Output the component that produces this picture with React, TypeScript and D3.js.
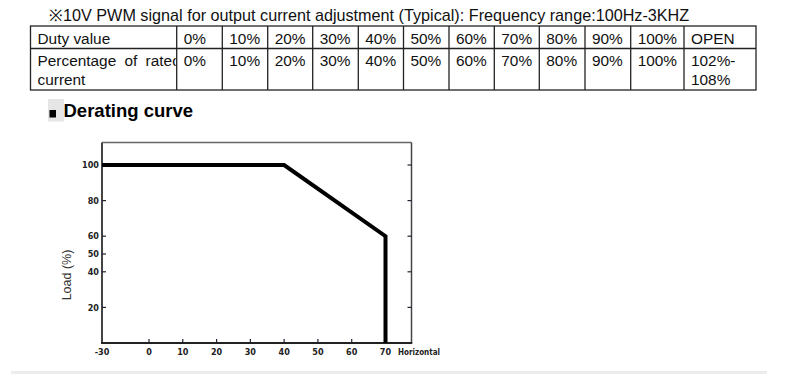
import React from "react";
import * as d3 from "d3";

// ---- data ----
const titleText = "※10V PWM signal for output current adjustment (Typical): Frequency range:100Hz-3KHZ";
const rowHeaders = ["Duty value", "Percentage of rated", "current"];
const dutyValues = ["0%", "10%", "20%", "30%", "40%", "50%", "60%", "70%", "80%", "90%", "100%", "OPEN"];
const currentValues = ["0%", "10%", "20%", "30%", "40%", "50%", "60%", "70%", "80%", "90%", "100%", "102%-|108%"];

const headingText = "Derating curve";
const curveTemp = [-30, 40, 70, 70];
const curveLoad = [100, 100, 60, 0];
const xTickValues = [-30, 0, 10, 20, 30, 40, 50, 60, 70];
const yTickValues = [100, 80, 60, 50, 40, 20];
const rightTickValues = [100, 80, 60, 40, 20];
const xAxisTitle = "Horizontal";
const yAxisTitle = "Load (%)";

// ---- layout ----
const W = 786;
const H = 379;
const tableLeft = 30.5;
const tableTop = 26;
const rowSplit = 48.5;
const tableBottom = 90;
const colEdges = [176.7, 222.3, 267.7, 312.7, 358.3, 403.5, 449, 494.3, 539.3, 585, 630.7, 684, 756];

const plotLeft = 102;
const plotRight = 411.5;
const plotTop = 142.5;
const plotBottom = 343;

export default function App() {
  const x = d3.scaleLinear().domain([-30, 0, 70, 77.7]).range([plotLeft, 149, 385.5, plotRight]);
  const y = d3.scaleLinear().domain([0, 100]).range([plotBottom, 165]);
  const line = d3
    .line<number>()
    .x((_, i) => x(curveTemp[i]))
    .y((_, i) => y(curveLoad[i]));

  const font = "Arial, 'Liberation Sans', sans-serif";
  const tickFont = "'Liberation Sans Narrow', 'DejaVu Sans Condensed', 'Arial Narrow', sans-serif";

  return (
    <svg
      width={W}
      height={H}
      style={{ position: "absolute", left: 0, top: 0, background: "#fff" }}
      fontFamily={font}
    >
      <defs>
        <clipPath id="hdrclip">
          <rect x={tableLeft} y={tableTop} width={colEdges[0] - tableLeft - 1} height={tableBottom - tableTop} />
        </clipPath>
      </defs>
      <rect x={0} y={0} width={W} height={H} fill="#fff" />

      {/* title */}
      <text x={49} y={21} fontSize={16.2} fill="#111">
        {titleText}
      </text>

      {/* table */}
      <g stroke="#222" strokeWidth={1.3} fill="none">
        <rect x={tableLeft} y={tableTop} width={colEdges[colEdges.length - 1] - tableLeft} height={tableBottom - tableTop} />
        <line x1={tableLeft} x2={colEdges[colEdges.length - 1]} y1={rowSplit} y2={rowSplit} />
        {colEdges.slice(0, -1).map((cx, i) => (
          <line key={i} x1={cx} x2={cx} y1={tableTop} y2={tableBottom} />
        ))}
      </g>
      <g fontSize={15.4} fill="#111">
        <text x={37.5} y={44}>{rowHeaders[0]}</text>
        <g clipPath="url(#hdrclip)">
          <text x={37.5} y={66} wordSpacing={4}>{rowHeaders[1]}</text>
        </g>
        <text x={37.5} y={84.5}>{rowHeaders[2]}</text>
        {dutyValues.map((v, i) => (
          <text key={"d" + i} x={colEdges[i] + 7} y={44}>{v}</text>
        ))}
        {currentValues.map((v, i) =>
          v.split("|").map((part, j) => (
            <text key={"c" + i + "-" + j} x={colEdges[i] + 7} y={66 + j * 18.5}>{part}</text>
          ))
        )}
      </g>

      {/* heading */}
      <rect x={48} y={99} width={16} height={22.5} fill="#e6e6e6" />
      <rect x={49.5} y={110} width={6.5} height={7.5} fill="#000" />
      <text x={63.5} y={116.5} fontSize={18.5} fontWeight="bold" fill="#000">
        {headingText}
      </text>

      {/* plot frame */}
      <line x1={plotLeft} x2={plotRight} y1={plotTop} y2={plotTop} stroke="#666" strokeWidth={1.5} />
      <line x1={plotRight} x2={plotRight} y1={plotTop} y2={plotBottom} stroke="#444" strokeWidth={1.5} />
      <line x1={plotLeft} x2={plotLeft} y1={plotTop} y2={plotBottom + 1} stroke="#444" strokeWidth={2} />
      <line x1={plotLeft - 1} x2={plotRight + 0.75} y1={plotBottom} y2={plotBottom} stroke="#222" strokeWidth={2} />

      {/* ticks */}
      <g stroke="#223" strokeWidth={1.2}>
        {yTickValues.map((t) => (
          <line key={"yl" + t} x1={plotLeft} x2={plotLeft + 4} y1={y(t)} y2={y(t)} />
        ))}
        {rightTickValues.map((t) => (
          <line key={"yr" + t} x1={plotRight - 4} x2={plotRight} y1={y(t)} y2={y(t)} />
        ))}
        {xTickValues.filter((t) => t > -30).map((t) => (
          <line key={"x" + t} x1={x(t)} x2={x(t)} y1={plotBottom} y2={plotBottom - 4} />
        ))}
      </g>
      <g fontFamily={tickFont} fontWeight="bold" fontSize={9} fill="#222">
        {yTickValues.map((t) => (
          <text key={"tl" + t} x={plotLeft - 3} y={y(t)} dy="0.35em" textAnchor="end">
            {t}
          </text>
        ))}
        {xTickValues.map((t) => (
          <text key={"tx" + t} x={x(t)} y={355} textAnchor="middle">
            {t}
          </text>
        ))}
        <text x={398} y={355} textLength={42} lengthAdjust="spacingAndGlyphs">{xAxisTitle}</text>
      </g>
      <text
        transform={`translate(71,275) rotate(-90)`}
        textAnchor="middle"
        fontSize={12.5}
        fill="#333"
      >
        {yAxisTitle}
      </text>

      {/* curve */}
      <path d={line(curveLoad) || ""} fill="none" stroke="#000" strokeWidth={4} strokeLinejoin="miter" />

      {/* bottom separator */}
      <rect x={11} y={371} width={756} height={3} fill="#ececec" />
    </svg>
  );
}
